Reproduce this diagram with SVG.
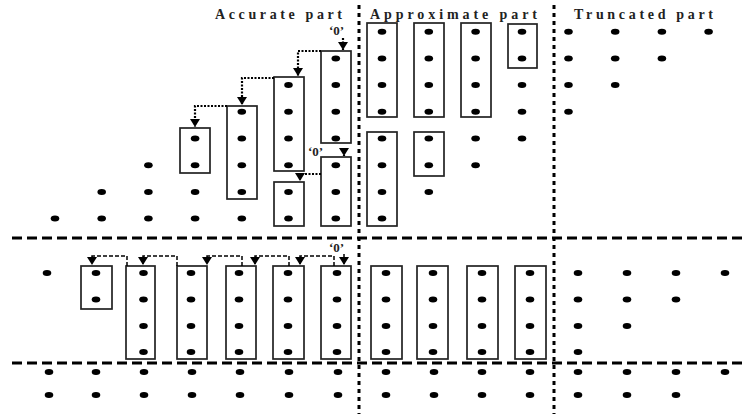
<svg xmlns="http://www.w3.org/2000/svg" width="744" height="414" viewBox="0 0 744 414">
<defs>
<style>
.dot{fill:#000}
.box{fill:none;stroke:#222;stroke-width:1.7}
.hdash{stroke:#000;stroke-width:2.8;stroke-dasharray:10 5;fill:none}
.vdash{stroke:#000;stroke-width:3;stroke-dasharray:4 4;fill:none}
.dotted{fill:none;stroke:#000;stroke-width:2.2;stroke-dasharray:2 1.5;marker-end:url(#ah)}
.dashed{fill:none;stroke:#000;stroke-width:1.5;stroke-dasharray:4 2;marker-end:url(#ah)}
.lbl{font-family:"Liberation Serif","Times New Roman",serif;font-weight:bold;font-size:14px;fill:#222}
.zero{font-family:"Liberation Serif","Times New Roman",serif;font-weight:bold;font-size:13px;fill:#222}
</style>
<marker id="ah" markerUnits="userSpaceOnUse" markerWidth="8" markerHeight="10" refX="8" refY="5" orient="auto">
<path d="M0,0 L8,5 L0,10 z" fill="#000"/>
</marker>
</defs>
<rect width="744" height="414" fill="#fff"/>

<g id="lines">
<line class="hdash" x1="12" y1="238" x2="744" y2="238"/>
<line class="hdash" x1="12" y1="363" x2="744" y2="363"/>
<line class="vdash" x1="359" y1="5" x2="359" y2="414"/>
<line class="vdash" x1="554" y1="5" x2="554" y2="414"/>
</g>

<g id="labels">
<text class="lbl" x="215" y="19" textLength="127" lengthAdjust="spacing">Accurate part</text>
<text class="lbl" x="370" y="19" textLength="167" lengthAdjust="spacing">Approximate part</text>
<text class="lbl" x="574" y="19" textLength="139" lengthAdjust="spacing">Truncated part</text>
<text class="zero" x="329" y="35">‘0’</text>
<text class="zero" x="308" y="156">‘0’</text>
<text class="zero" x="329" y="252">‘0’</text>
</g>

<g id="top-boxes">
<rect class="box" x="180" y="128" width="30" height="45"/>
<rect class="box" x="227" y="106" width="30" height="93"/>
<rect class="box" x="274" y="77" width="30" height="94"/>
<rect class="box" x="274" y="182" width="30" height="44"/>
<rect class="box" x="321" y="51" width="30" height="92"/>
<rect class="box" x="321" y="157" width="30" height="69"/>
<rect class="box" x="367" y="23" width="30" height="94"/>
<rect class="box" x="367" y="132" width="30" height="94"/>
<rect class="box" x="414" y="23" width="30" height="94"/>
<rect class="box" x="414" y="132" width="30" height="44"/>
<rect class="box" x="461" y="23" width="30" height="94"/>
<rect class="box" x="508" y="24" width="29" height="44"/>
</g>

<g id="top-dots">
<ellipse class="dot" cx="55" cy="218.6" rx="4.3" ry="3"/>
<ellipse class="dot" cx="101.7" cy="191.9" rx="4.3" ry="3"/>
<ellipse class="dot" cx="101.7" cy="218.6" rx="4.3" ry="3"/>
<ellipse class="dot" cx="148.4" cy="165.2" rx="4.3" ry="3"/>
<ellipse class="dot" cx="148.4" cy="191.9" rx="4.3" ry="3"/>
<ellipse class="dot" cx="148.4" cy="218.6" rx="4.3" ry="3"/>
<ellipse class="dot" cx="195.1" cy="138.5" rx="4.3" ry="3"/>
<ellipse class="dot" cx="195.1" cy="165.2" rx="4.3" ry="3"/>
<ellipse class="dot" cx="195.1" cy="191.9" rx="4.3" ry="3"/>
<ellipse class="dot" cx="195.1" cy="218.6" rx="4.3" ry="3"/>
<ellipse class="dot" cx="241.8" cy="111.8" rx="4.3" ry="3"/>
<ellipse class="dot" cx="241.8" cy="138.5" rx="4.3" ry="3"/>
<ellipse class="dot" cx="241.8" cy="165.2" rx="4.3" ry="3"/>
<ellipse class="dot" cx="241.8" cy="191.9" rx="4.3" ry="3"/>
<ellipse class="dot" cx="241.8" cy="218.6" rx="4.3" ry="3"/>
<ellipse class="dot" cx="288.5" cy="85.1" rx="4.3" ry="3"/>
<ellipse class="dot" cx="288.5" cy="111.8" rx="4.3" ry="3"/>
<ellipse class="dot" cx="288.5" cy="138.5" rx="4.3" ry="3"/>
<ellipse class="dot" cx="288.5" cy="165.2" rx="4.3" ry="3"/>
<ellipse class="dot" cx="288.5" cy="191.9" rx="4.3" ry="3"/>
<ellipse class="dot" cx="288.5" cy="218.6" rx="4.3" ry="3"/>
<ellipse class="dot" cx="335.8" cy="58.4" rx="4.3" ry="3"/>
<ellipse class="dot" cx="335.8" cy="85.1" rx="4.3" ry="3"/>
<ellipse class="dot" cx="335.8" cy="111.8" rx="4.3" ry="3"/>
<ellipse class="dot" cx="335.8" cy="138.5" rx="4.3" ry="3"/>
<ellipse class="dot" cx="335.8" cy="165.2" rx="4.3" ry="3"/>
<ellipse class="dot" cx="335.8" cy="191.9" rx="4.3" ry="3"/>
<ellipse class="dot" cx="335.8" cy="218.6" rx="4.3" ry="3"/>
<ellipse class="dot" cx="382" cy="31.7" rx="4.3" ry="3"/>
<ellipse class="dot" cx="382" cy="58.4" rx="4.3" ry="3"/>
<ellipse class="dot" cx="382" cy="85.1" rx="4.3" ry="3"/>
<ellipse class="dot" cx="382" cy="111.8" rx="4.3" ry="3"/>
<ellipse class="dot" cx="382" cy="138.5" rx="4.3" ry="3"/>
<ellipse class="dot" cx="382" cy="165.2" rx="4.3" ry="3"/>
<ellipse class="dot" cx="382" cy="191.9" rx="4.3" ry="3"/>
<ellipse class="dot" cx="382" cy="218.6" rx="4.3" ry="3"/>
<ellipse class="dot" cx="428.8" cy="31.7" rx="4.3" ry="3"/>
<ellipse class="dot" cx="428.8" cy="58.4" rx="4.3" ry="3"/>
<ellipse class="dot" cx="428.8" cy="85.1" rx="4.3" ry="3"/>
<ellipse class="dot" cx="428.8" cy="111.8" rx="4.3" ry="3"/>
<ellipse class="dot" cx="428.8" cy="138.5" rx="4.3" ry="3"/>
<ellipse class="dot" cx="428.8" cy="165.2" rx="4.3" ry="3"/>
<ellipse class="dot" cx="428.8" cy="191.9" rx="4.3" ry="3"/>
<ellipse class="dot" cx="475.6" cy="31.7" rx="4.3" ry="3"/>
<ellipse class="dot" cx="475.6" cy="58.4" rx="4.3" ry="3"/>
<ellipse class="dot" cx="475.6" cy="85.1" rx="4.3" ry="3"/>
<ellipse class="dot" cx="475.6" cy="111.8" rx="4.3" ry="3"/>
<ellipse class="dot" cx="475.6" cy="138.5" rx="4.3" ry="3"/>
<ellipse class="dot" cx="475.6" cy="165.2" rx="4.3" ry="3"/>
<ellipse class="dot" cx="522" cy="31.7" rx="4.3" ry="3"/>
<ellipse class="dot" cx="522" cy="58.4" rx="4.3" ry="3"/>
<ellipse class="dot" cx="522" cy="85.1" rx="4.3" ry="3"/>
<ellipse class="dot" cx="522" cy="111.8" rx="4.3" ry="3"/>
<ellipse class="dot" cx="522" cy="138.5" rx="4.3" ry="3"/>
<ellipse class="dot" cx="568.5" cy="31.7" rx="4.3" ry="3"/>
<ellipse class="dot" cx="568.5" cy="58.4" rx="4.3" ry="3"/>
<ellipse class="dot" cx="568.5" cy="85.1" rx="4.3" ry="3"/>
<ellipse class="dot" cx="568.5" cy="111.8" rx="4.3" ry="3"/>
<ellipse class="dot" cx="615.2" cy="31.7" rx="4.3" ry="3"/>
<ellipse class="dot" cx="615.2" cy="58.4" rx="4.3" ry="3"/>
<ellipse class="dot" cx="615.2" cy="85.1" rx="4.3" ry="3"/>
<ellipse class="dot" cx="661.9" cy="31.7" rx="4.3" ry="3"/>
<ellipse class="dot" cx="661.9" cy="58.4" rx="4.3" ry="3"/>
<ellipse class="dot" cx="708.6" cy="31.7" rx="4.3" ry="3"/>
</g>

<g id="bottom-boxes">
<rect class="box" x="81" y="266" width="31" height="43"/>
<rect class="box" x="126" y="266" width="29" height="93"/>
<rect class="box" x="177" y="266" width="30" height="93"/>
<rect class="box" x="226" y="266" width="30" height="93"/>
<rect class="box" x="273" y="266" width="31" height="93"/>
<rect class="box" x="321" y="266" width="30" height="93"/>
<rect class="box" x="371" y="266" width="31" height="93"/>
<rect class="box" x="417" y="266" width="31" height="93"/>
<rect class="box" x="467" y="266" width="31" height="93"/>
<rect class="box" x="515" y="266" width="31" height="93"/>
</g>

<g id="bottom-dots">
<ellipse class="dot" cx="47" cy="273" rx="4.3" ry="3"/>
<ellipse class="dot" cx="96" cy="273" rx="4.3" ry="3"/>
<ellipse class="dot" cx="96" cy="299.5" rx="4.3" ry="3"/>
<g id="full-cols">
<ellipse class="dot" cx="143.5" cy="273" rx="4.3" ry="3"/><ellipse class="dot" cx="143.5" cy="299.5" rx="4.3" ry="3"/><ellipse class="dot" cx="143.5" cy="326" rx="4.3" ry="3"/><ellipse class="dot" cx="143.5" cy="352" rx="4.3" ry="3"/>
<ellipse class="dot" cx="191" cy="273" rx="4.3" ry="3"/><ellipse class="dot" cx="191" cy="299.5" rx="4.3" ry="3"/><ellipse class="dot" cx="191" cy="326" rx="4.3" ry="3"/><ellipse class="dot" cx="191" cy="352" rx="4.3" ry="3"/>
<ellipse class="dot" cx="239" cy="273" rx="4.3" ry="3"/><ellipse class="dot" cx="239" cy="299.5" rx="4.3" ry="3"/><ellipse class="dot" cx="239" cy="326" rx="4.3" ry="3"/><ellipse class="dot" cx="239" cy="352" rx="4.3" ry="3"/>
<ellipse class="dot" cx="288" cy="273" rx="4.3" ry="3"/><ellipse class="dot" cx="288" cy="299.5" rx="4.3" ry="3"/><ellipse class="dot" cx="288" cy="326" rx="4.3" ry="3"/><ellipse class="dot" cx="288" cy="352" rx="4.3" ry="3"/>
<ellipse class="dot" cx="337" cy="273" rx="4.3" ry="3"/><ellipse class="dot" cx="337" cy="299.5" rx="4.3" ry="3"/><ellipse class="dot" cx="337" cy="326" rx="4.3" ry="3"/><ellipse class="dot" cx="337" cy="352" rx="4.3" ry="3"/>
<ellipse class="dot" cx="386" cy="273" rx="4.3" ry="3"/><ellipse class="dot" cx="386" cy="299.5" rx="4.3" ry="3"/><ellipse class="dot" cx="386" cy="326" rx="4.3" ry="3"/><ellipse class="dot" cx="386" cy="352" rx="4.3" ry="3"/>
<ellipse class="dot" cx="433" cy="273" rx="4.3" ry="3"/><ellipse class="dot" cx="433" cy="299.5" rx="4.3" ry="3"/><ellipse class="dot" cx="433" cy="326" rx="4.3" ry="3"/><ellipse class="dot" cx="433" cy="352" rx="4.3" ry="3"/>
<ellipse class="dot" cx="482" cy="273" rx="4.3" ry="3"/><ellipse class="dot" cx="482" cy="299.5" rx="4.3" ry="3"/><ellipse class="dot" cx="482" cy="326" rx="4.3" ry="3"/><ellipse class="dot" cx="482" cy="352" rx="4.3" ry="3"/>
<ellipse class="dot" cx="530" cy="273" rx="4.3" ry="3"/><ellipse class="dot" cx="530" cy="299.5" rx="4.3" ry="3"/><ellipse class="dot" cx="530" cy="326" rx="4.3" ry="3"/><ellipse class="dot" cx="530" cy="352" rx="4.3" ry="3"/>
<ellipse class="dot" cx="578" cy="273" rx="4.3" ry="3"/><ellipse class="dot" cx="578" cy="299.5" rx="4.3" ry="3"/><ellipse class="dot" cx="578" cy="326" rx="4.3" ry="3"/><ellipse class="dot" cx="578" cy="352" rx="4.3" ry="3"/>
</g>
<ellipse class="dot" cx="627" cy="273" rx="4.3" ry="3"/><ellipse class="dot" cx="627" cy="299.5" rx="4.3" ry="3"/><ellipse class="dot" cx="627" cy="326" rx="4.3" ry="3"/>
<ellipse class="dot" cx="676" cy="273" rx="4.3" ry="3"/><ellipse class="dot" cx="676" cy="299.5" rx="4.3" ry="3"/>
<ellipse class="dot" cx="725" cy="273" rx="4.3" ry="3"/>
</g>

<g id="base-dots">
<ellipse class="dot" cx="49" cy="372" rx="4.3" ry="3"/><ellipse class="dot" cx="96" cy="372" rx="4.3" ry="3"/><ellipse class="dot" cx="144" cy="372" rx="4.3" ry="3"/><ellipse class="dot" cx="192" cy="372" rx="4.3" ry="3"/><ellipse class="dot" cx="240" cy="372" rx="4.3" ry="3"/><ellipse class="dot" cx="289" cy="372" rx="4.3" ry="3"/><ellipse class="dot" cx="338" cy="372" rx="4.3" ry="3"/><ellipse class="dot" cx="386" cy="372" rx="4.3" ry="3"/><ellipse class="dot" cx="434" cy="372" rx="4.3" ry="3"/><ellipse class="dot" cx="482" cy="372" rx="4.3" ry="3"/><ellipse class="dot" cx="530" cy="372" rx="4.3" ry="3"/><ellipse class="dot" cx="578" cy="372" rx="4.3" ry="3"/><ellipse class="dot" cx="627" cy="372" rx="4.3" ry="3"/><ellipse class="dot" cx="676" cy="372" rx="4.3" ry="3"/><ellipse class="dot" cx="725" cy="372" rx="4.3" ry="3"/>
<ellipse class="dot" cx="49" cy="395" rx="4.3" ry="3"/><ellipse class="dot" cx="96" cy="395" rx="4.3" ry="3"/><ellipse class="dot" cx="144" cy="395" rx="4.3" ry="3"/><ellipse class="dot" cx="192" cy="395" rx="4.3" ry="3"/><ellipse class="dot" cx="240" cy="395" rx="4.3" ry="3"/><ellipse class="dot" cx="289" cy="395" rx="4.3" ry="3"/><ellipse class="dot" cx="338" cy="395" rx="4.3" ry="3"/><ellipse class="dot" cx="386" cy="395" rx="4.3" ry="3"/><ellipse class="dot" cx="434" cy="395" rx="4.3" ry="3"/><ellipse class="dot" cx="482" cy="395" rx="4.3" ry="3"/><ellipse class="dot" cx="530" cy="395" rx="4.3" ry="3"/><ellipse class="dot" cx="578" cy="395" rx="4.3" ry="3"/><ellipse class="dot" cx="627" cy="395" rx="4.3" ry="3"/><ellipse class="dot" cx="676" cy="395" rx="4.3" ry="3"/>
</g>

<g id="connectors">
<path class="dotted" d="M343,38 V50"/>
<path class="dotted" d="M321,51 H298 V76"/>
<path class="dotted" d="M274,78 H242 V105"/>
<path class="dotted" d="M227,106 H195 V127"/>
<path class="dotted" d="M344,148 V156"/>
<path class="dotted" d="M321,174 H300 V181"/>
<path class="dashed" d="M127,266 V256 H92 V265"/>
<path class="dashed" d="M177,266 V256 H143 V265"/>
<path class="dashed" d="M242,266 V256 H207 V265"/>
<path class="dashed" d="M289,266 V256 H255 V265"/>
<path class="dashed" d="M334,266 V256 H300 V265"/>
<path class="dashed" d="M344,254 V265"/>
</g>
</svg>
